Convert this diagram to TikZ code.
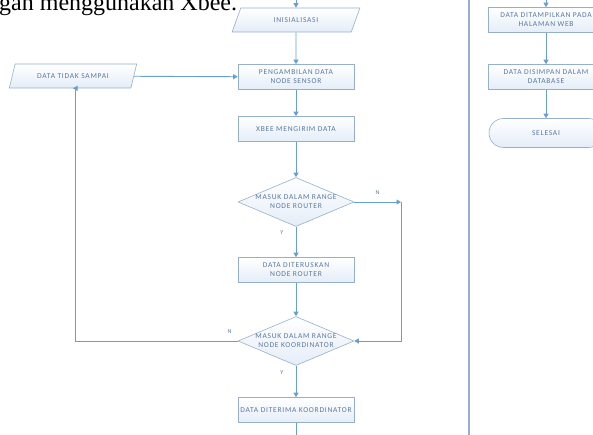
\documentclass[tikz,border=0pt]{standalone}
\usepackage{fontspec}
\setmainfont{Liberation Serif}
\newfontfamily\boxfont[LetterSpace=10]{Carlito}
\usetikzlibrary{shapes.geometric,shapes.misc,arrows.meta}

\definecolor{garis}{RGB}{104,158,208}
\definecolor{tepi}{RGB}{150,175,205}
\definecolor{isi}{RGB}{228,237,248}
\definecolor{tulisan}{RGB}{90,120,160}

\tikzset{
  teks/.style={text=tulisan, align=center, inner sep=1pt,
    font=\boxfont\fontsize{7.5}{9}\selectfont},
  kotak/.style={teks, draw=tepi, line width=0.6pt, top color=white, bottom color=isi,
    minimum width=116pt, minimum height=25pt},
  proses/.style={kotak, rectangle},
  masukan/.style={kotak, trapezium, trapezium left angle=62, trapezium right angle=118,
    trapezium stretches=true, minimum width=128pt, minimum height=24pt},
  keputusan/.style={kotak, diamond, minimum width=116pt, minimum height=49pt, inner sep=0pt},
  akhir/.style={kotak, rounded rectangle, minimum height=29pt},
  alur/.style={draw=garis, line width=0.9pt, -{Triangle[width=5pt,length=4.5pt]}},
  label/.style={text=tulisan, font=\boxfont\fontsize{6}{7}\selectfont}
}

\begin{document}
\begin{tikzpicture}[x=1pt, y=-1pt]
  \useasboundingbox (0,0) rectangle (593,435);
  \clip (0,0) rectangle (593,435);

  % Légende
  \node[anchor=base west, inner sep=0pt, font=\fontsize{24}{24}\selectfont] (legende) at (-1,11) {gan menggunakan Xbee.};

  % Séparateur
  \draw[tepi, line width=1.1pt] (469,0) -- (469,435);

  % Colonne gauche
  \node[masukan] (init) at (296,20) {INISIALISASI};
  \node[proses] (ambil) at (296,77) {PENGAMBILAN DATA\\NODE SENSOR};
  \node[masukan] (tidak) at (73,76) {DATA TIDAK SAMPAI};
  \node[proses] (xbee) at (296,129) {XBEE MENGIRIM DATA};
  \node[keputusan] (router) at (296,202) {};
  \node[teks] (routerteks) at (router) {MASUK DALAM RANGE\\NODE ROUTER};
  \node[proses] (terus) at (296,270) {DATA DITERUSKAN\\NODE ROUTER};
  \node[keputusan] (koord) at (296,341) {};
  \node[teks] (koordteks) at (koord) {MASUK DALAM RANGE\\NODE KOORDINATOR};
  \node[proses] (terima) at (296,410) {DATA DITERIMA KOORDINATOR};

  % Colonne droite
  \node[proses] (web) at (546,20) {DATA DITAMPILKAN PADA\\HALAMAN WEB};
  \node[proses] (simpan) at (546,77) {DATA DISIMPAN DALAM\\DATABASE};
  \node[akhir] (selesai) at (546,133) {SELESAI};

  % Points
  \coordinate (haut) at (296,0);
  \coordinate (bas) at (296,440);
  \coordinate (hautweb) at (546,0);
  \coordinate (coinN) at (401,202);
  \coordinate (coinK) at (401,341);
  \coordinate (coinG) at (75,341);

  % Flèches
  \draw[alur] (haut) -- (init);
  \draw[alur] (init) -- (ambil);
  \draw[alur] (ambil) -- (xbee);
  \draw[alur] (xbee) -- (router);
  \draw[alur] (router) -- node[label, pos=0.2, left=9pt] {Y} (terus);
  \draw[alur] (terus) -- (koord);
  \draw[alur] (koord) -- node[label, pos=0.2, left=9pt] {Y} (terima);
  \draw[draw=garis, line width=0.9pt] (terima) -- (bas);
  \draw[alur] (tidak) -- (ambil);
  \draw[alur] (router.east) -- node[label, above=4pt] {N} (coinN);
  \draw[alur] (coinN) -- (coinK) -- (koord.east);
  \draw[alur] (koord.west) -- (coinG) node[label, pos=0.05, above=4pt] {N} -- (coinG |- tidak.south) -- (tidak.south);

  \draw[alur] (hautweb) -- (web);
  \draw[alur] (web) -- (simpan);
  \draw[alur] (simpan) -- (selesai);
\end{tikzpicture}
\end{document}
